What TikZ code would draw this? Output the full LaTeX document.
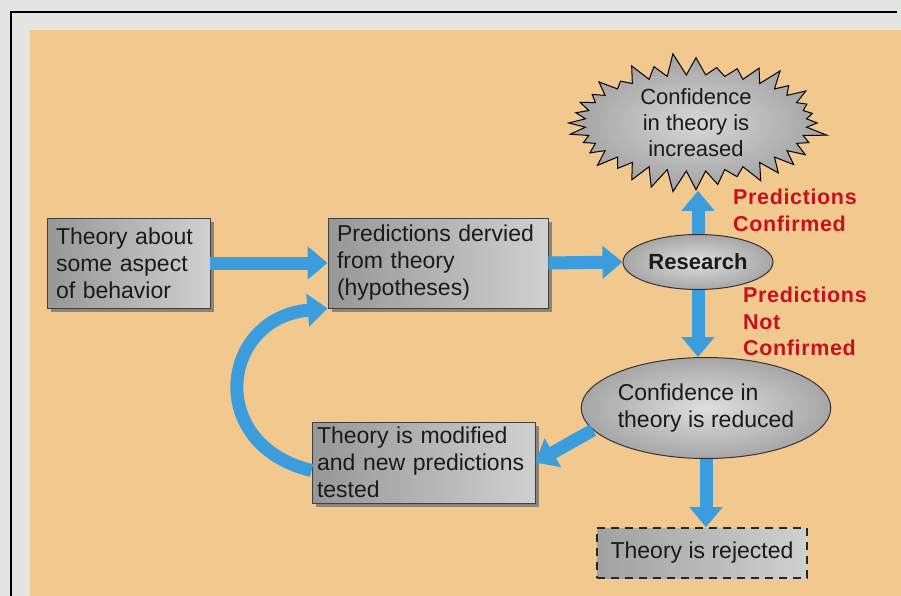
\documentclass[tikz,border=0pt]{standalone}
\usepackage{fontspec}
\setmainfont{Liberation Sans}
\newfontfamily\redfont[LetterSpace=3]{Liberation Sans}
\usetikzlibrary{arrows.meta,shapes.geometric,shapes.symbols,shadows}
\definecolor{bgorange}{HTML}{F1C98F}
\definecolor{paper}{HTML}{E3E5E1}
\definecolor{arrowblue}{HTML}{3C9DDC}
\definecolor{redtxt}{HTML}{C8101E}
\definecolor{gdark}{HTML}{979797}
\definecolor{glight}{HTML}{D0D0D0}
\definecolor{inkc}{HTML}{1A1A1A}
\tikzset{
  txt/.style={font=\fontsize{23}{27}\selectfont, text=inkc, execute at begin node={\hyphenpenalty=10000}},
  graybox/.style={txt, draw=black!75, line width=0.8pt, left color=gdark, right color=glight,
    drop shadow={shadow xshift=4pt, shadow yshift=-4pt, fill=black!55, opacity=0.8},
    align=left, inner xsep=10pt, inner ysep=4pt},
  grayell/.style={txt, ellipse, draw=black!80, line width=1pt, inner color=glight!70!white, outer color=gdark!85!white, inner sep=0pt},
  bluearrow/.style={draw=arrowblue, line width=13pt, -{Triangle[length=20pt,width=32pt]}},
  redlabel/.style={font=\redfont\bfseries\fontsize{21.5}{26.5}\selectfont, text=redtxt, align=left, inner sep=0pt}
}
\begin{document}
\begin{tikzpicture}[x=1pt,y=-1pt]
\fill[paper] (0,0) rectangle (901,596);
\useasboundingbox (0,0) rectangle (901,596);
\fill[bgorange] (30,30) rectangle (901,596);
\draw[line width=2.5pt, black] (11,597) -- (11,12) -- (897,12);

% nodes
\node[graybox, minimum width=163pt, text width=145pt, inner xsep=9pt, minimum height=90pt] (b1) at (128.5,263) {Theory about\\some aspect\\of behavior};
\node[graybox, minimum width=220pt, text width=202pt, inner xsep=9pt, minimum height=90pt] (b2) at (438,263) {Predictions dervied\\from theory\\(hypotheses)};
\node[grayell, font=\bfseries\fontsize{22}{27}\selectfont, minimum width=150pt, minimum height=55pt] (r) at (698,262) {Research};
\node[txt, starburst, draw=black, line width=1pt, inner color=glight!85!white, outer color=gdark!90!white, starburst points=36, starburst point height=23pt, random starburst=11, align=center, inner sep=0pt, minimum width=268pt, minimum height=92pt, font=\fontsize{22}{26}\selectfont] (sb) at (696,123) {Confidence\\in theory is\\increased};
\node[grayell, align=left, minimum width=215pt, minimum height=101pt] (e2) at (706,408) {Confidence in\\theory is reduced};
\node[graybox, minimum width=223pt, text width=213pt, inner xsep=5pt, minimum height=81pt] (b3) at (423.5,462.5) {Theory is modified\\and new predictions\\tested};
\node[txt, draw=black!85, dashed, dash pattern=on 8pt off 6pt, line width=1.6pt, left color=gdark!90, right color=glight, minimum width=210pt, minimum height=50pt] (rej) at (702,553) {Theory is rejected};

% labels
\node[redlabel, anchor=north west] (l1) at (733,189) {Predictions\\Confirmed};
\node[redlabel, anchor=north west] (l2) at (743,287) {Predictions\\Not\\Confirmed};

% arrows
\draw[bluearrow] (b1.east) -- (b2.west);
\draw[bluearrow] (b2.east) -- (r.west);
\draw[bluearrow] (r.north) -- (r.north |- sb.south);
\draw[bluearrow] (r.south) -- (r.south |- e2.north);
\draw[bluearrow] (e2.191) -- (b3.east);
\draw[bluearrow] (e2.south) -- (e2.south |- rej.north);
\draw[bluearrow] ([yshift=-8pt]b3.west) .. controls (205,445) and (220,318) .. (b2.south west);
\end{tikzpicture}
\end{document}
